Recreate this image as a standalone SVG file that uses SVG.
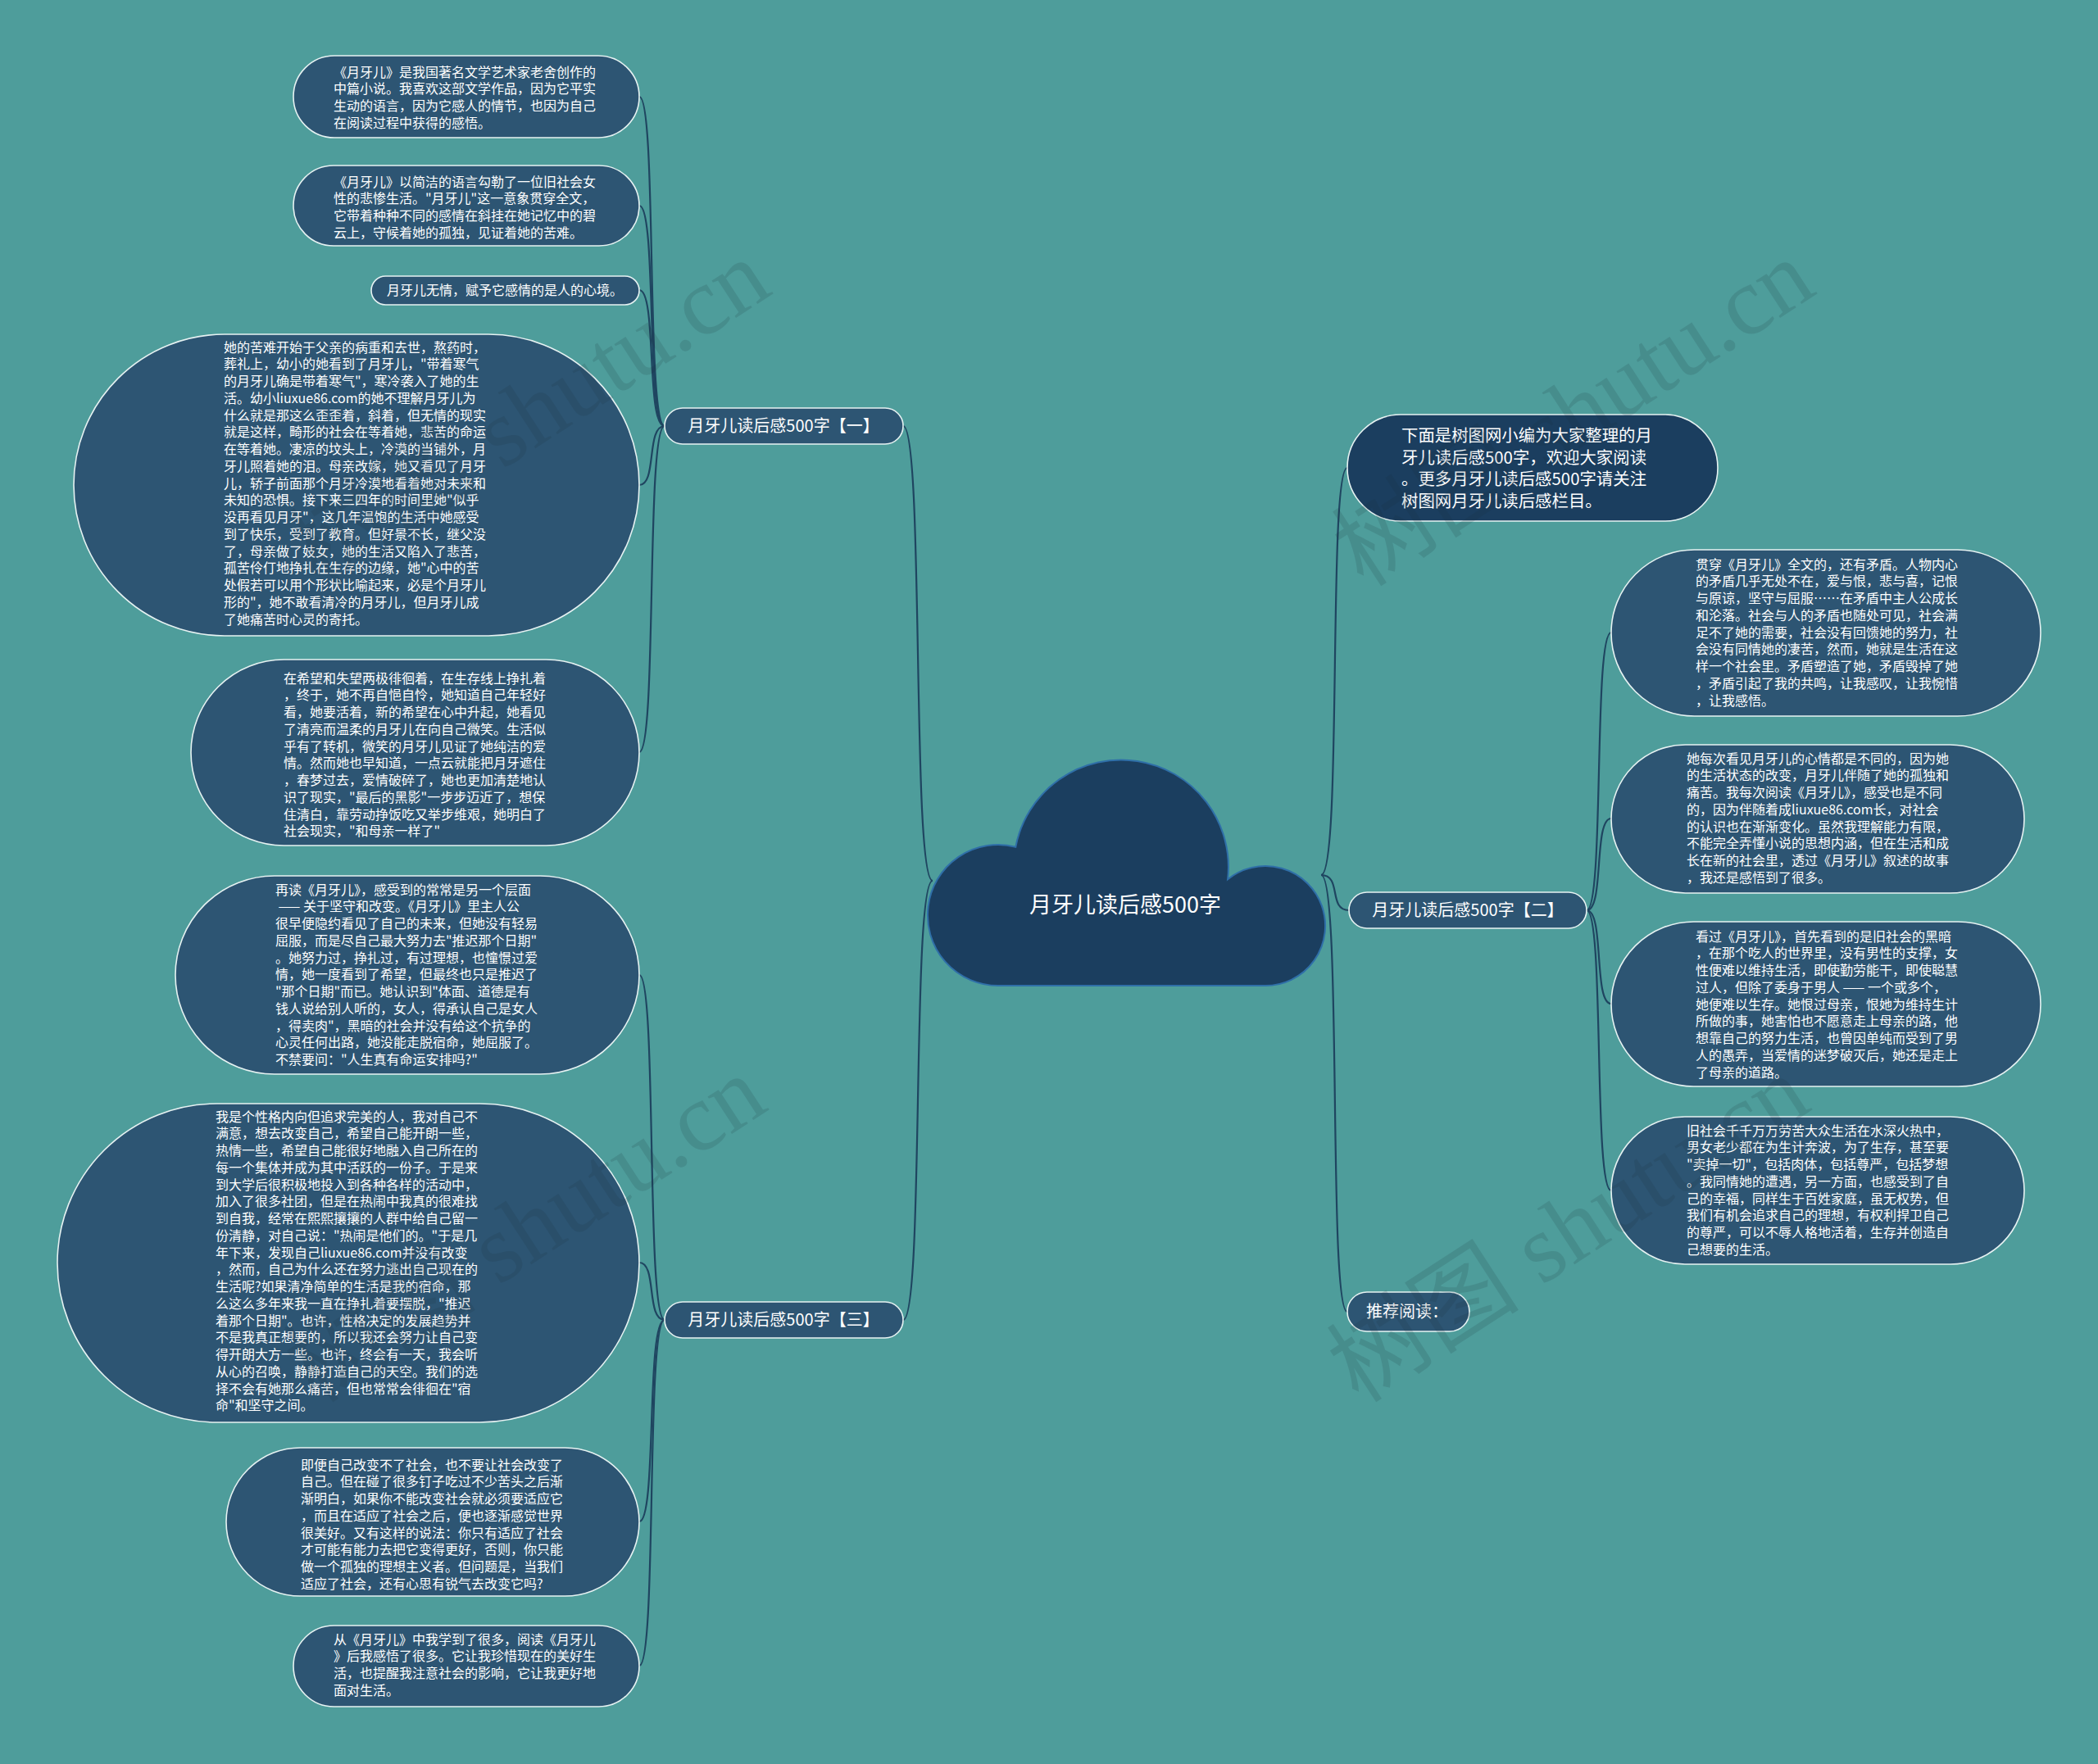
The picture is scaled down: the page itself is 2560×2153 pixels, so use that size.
<svg xmlns="http://www.w3.org/2000/svg" width="2560" height="2153" viewBox="0 0 2560 2153">
<style>
.node{fill:#2d5573;stroke:#e6f2f2;stroke-width:1.6}
.dark{fill:#1b3e5f;stroke:#e6f2f2;stroke-width:1.6}
.cloud{fill:#1b3e5f;stroke:#2f6fa8;stroke-width:2}
.t{font-family:"Noto Sans CJK SC","Noto Sans",sans-serif;font-size:16px;fill:#ffffff}
.tl{font-family:"Noto Sans CJK SC","Noto Sans",sans-serif;font-size:20px;fill:#ffffff}
.tc{font-family:"Noto Sans CJK SC","Noto Sans",sans-serif;font-size:27px;fill:#ffffff}
.link{fill:none;stroke:#1f4560;stroke-width:2.2}
.wm{font-family:"Liberation Serif","Noto Sans CJK SC",serif;font-size:118px;fill:#1a2f3a;opacity:0.14}
</style>
<rect x="0" y="0" width="2560" height="2153" fill="#4e9d9b"/>

<g id="connectors">
<path class="link" d="M1138 1075 C1112 1075,1128 520,1102 520"/>
<path class="link" d="M1138 1075 C1112 1075,1128 1611,1102 1611"/>
<path class="link" d="M811 520 C788 520,802 118,780 118"/>
<path class="link" d="M811 520 C788 520,802 251,780 251"/>
<path class="link" d="M811 520 C788 520,802 354,780 354"/>
<path class="link" d="M811 520 C788 520,802 592,780 592"/>
<path class="link" d="M811 520 C788 520,802 918,780 918"/>
<path class="link" d="M811 1611 C788 1611,802 1190,780 1190"/>
<path class="link" d="M811 1611 C788 1611,802 1541,780 1541"/>
<path class="link" d="M811 1611 C788 1611,802 1857,780 1857"/>
<path class="link" d="M811 1611 C788 1611,802 2033,780 2033"/>
<path class="link" d="M1612 1068 C1638 1068,1620 571,1644 571"/>
<path class="link" d="M1612 1068 C1638 1068,1620 1111,1646 1111"/>
<path class="link" d="M1612 1068 C1638 1068,1620 1601,1644 1601"/>
<path class="link" d="M1936 1111 C1958 1111,1944 772,1966 772"/>
<path class="link" d="M1936 1111 C1958 1111,1944 999,1966 999"/>
<path class="link" d="M1936 1111 C1958 1111,1944 1225,1966 1225"/>
<path class="link" d="M1936 1111 C1958 1111,1944 1453,1966 1453"/>
</g>

<g id="center">
<path class="cloud" d="M1218 1203 A86 86 0 1 1 1239.3 1033.7 A131 131 0 0 1 1498.1 1073.3 A73 73 0 1 1 1544 1203 Z"/>
<text class="tc" x="1373" y="1114" text-anchor="middle">月牙儿读后感500字</text>
</g>

<g id="branch1">
<rect class="node" x="811" y="498" width="291" height="44" rx="22"/>
<text class="tl" x="956" y="527" text-anchor="middle">月牙儿读后感500字【一】</text>
</g>
<g id="branch3">
<rect class="node" x="811" y="1589" width="291" height="44" rx="22"/>
<text class="tl" x="956" y="1618" text-anchor="middle">月牙儿读后感500字【三】</text>
</g>
<g id="branch2">
<rect class="node" x="1646" y="1089" width="290" height="44" rx="22"/>
<text class="tl" x="1791" y="1118" text-anchor="middle">月牙儿读后感500字【二】</text>
</g>
<g id="recommend">
<rect class="node" x="1644" y="1577" width="149" height="48" rx="24"/>
<text class="tl" x="1667" y="1608">推荐阅读：</text>
</g>

<g id="intro">
<rect class="dark" x="1644" y="506" width="452" height="130" rx="65"/>
<text class="tl" x="1710" y="539" style="font-size:20.4px"><tspan x="1710" dy="0">下面是树图网小编为大家整理的月</tspan><tspan x="1710" dy="26.7">牙儿读后感500字，欢迎大家阅读</tspan><tspan x="1710" dy="26.7">。更多月牙儿读后感500字请关注</tspan><tspan x="1710" dy="26.7">树图网月牙儿读后感栏目。</tspan></text>
</g>

<g id="n1">
<rect class="node" x="358" y="68" width="422" height="100" rx="50"/>
<text class="t" x="407" y="93.6"><tspan x="407" dy="0">《月牙儿》是我国著名文学艺术家老舍创作的</tspan><tspan x="407" dy="20.75">中篇小说。我喜欢这部文学作品，因为它平实</tspan><tspan x="407" dy="20.75">生动的语言，因为它感人的情节，也因为自己</tspan><tspan x="407" dy="20.75">在阅读过程中获得的感悟。</tspan></text>
</g>

<g id="n2">
<rect class="node" x="358" y="202" width="422" height="98" rx="49"/>
<text class="t" x="407" y="227.6"><tspan x="407" dy="0">《月牙儿》以简洁的语言勾勒了一位旧社会女</tspan><tspan x="407" dy="20.75">性的悲惨生活。"月牙儿"这一意象贯穿全文，</tspan><tspan x="407" dy="20.75">它带着种种不同的感情在斜挂在她记忆中的碧</tspan><tspan x="407" dy="20.75">云上，守候着她的孤独，见证着她的苦难。</tspan></text>
</g>

<g id="n3">
<rect class="node" x="453" y="337" width="327" height="35" rx="17.5"/>
<text class="t" x="472" y="359.6">月牙儿无情，赋予它感情的是人的心境。</text>
</g>

<g id="n4">
<rect class="node" x="90" y="408" width="690" height="368" rx="184"/>
<text class="t" x="273" y="429.6"><tspan x="273" dy="0">她的苦难开始于父亲的病重和去世，熬药时，</tspan><tspan x="273" dy="20.75">葬礼上，幼小的她看到了月牙儿，"带着寒气</tspan><tspan x="273" dy="20.75">的月牙儿确是带着寒气"，寒冷袭入了她的生</tspan><tspan x="273" dy="20.75">活。幼小liuxue86.com的她不理解月牙儿为</tspan><tspan x="273" dy="20.75">什么就是那这么歪歪着，斜着，但无情的现实</tspan><tspan x="273" dy="20.75">就是这样，畸形的社会在等着她，悲苦的命运</tspan><tspan x="273" dy="20.75">在等着她。凄凉的坟头上，冷漠的当铺外，月</tspan><tspan x="273" dy="20.75">牙儿照着她的泪。母亲改嫁，她又看见了月牙</tspan><tspan x="273" dy="20.75">儿，轿子前面那个月牙冷漠地看着她对未来和</tspan><tspan x="273" dy="20.75">未知的恐惧。接下来三四年的时间里她"似乎</tspan><tspan x="273" dy="20.75">没再看见月牙"，这几年温饱的生活中她感受</tspan><tspan x="273" dy="20.75">到了快乐，受到了教育。但好景不长，继父没</tspan><tspan x="273" dy="20.75">了，母亲做了妓女，她的生活又陷入了悲苦，</tspan><tspan x="273" dy="20.75">孤苦伶仃地挣扎在生存的边缘，她"心中的苦</tspan><tspan x="273" dy="20.75">处假若可以用个形状比喻起来，必是个月牙儿</tspan><tspan x="273" dy="20.75">形的"，她不敢看清冷的月牙儿，但月牙儿成</tspan><tspan x="273" dy="20.75">了她痛苦时心灵的寄托。</tspan></text>
</g>

<g id="n5">
<rect class="node" x="233" y="805" width="547" height="227" rx="113.5"/>
<text class="t" x="346" y="833.6"><tspan x="346" dy="0">在希望和失望两极徘徊着，在生存线上挣扎着</tspan><tspan x="346" dy="20.75">，终于，她不再自悒自怜，她知道自己年轻好</tspan><tspan x="346" dy="20.75">看，她要活着，新的希望在心中升起，她看见</tspan><tspan x="346" dy="20.75">了清亮而温柔的月牙儿在向自己微笑。生活似</tspan><tspan x="346" dy="20.75">乎有了转机，微笑的月牙儿见证了她纯洁的爱</tspan><tspan x="346" dy="20.75">情。然而她也早知道，一点云就能把月牙遮住</tspan><tspan x="346" dy="20.75">，春梦过去，爱情破碎了，她也更加清楚地认</tspan><tspan x="346" dy="20.75">识了现实，"最后的黑影"一步步迈近了，想保</tspan><tspan x="346" dy="20.75">住清白，靠劳动挣饭吃又举步维艰，她明白了</tspan><tspan x="346" dy="20.75">社会现实，"和母亲一样了"</tspan></text>
</g>

<g id="n6">
<rect class="node" x="214" y="1069" width="566" height="242" rx="121"/>
<text class="t" x="336" y="1091.6"><tspan x="336" dy="0">再读《月牙儿》，感受到的常常是另一个层面</tspan><tspan x="336" dy="20.75"> —— 关于坚守和改变。《月牙儿》里主人公</tspan><tspan x="336" dy="20.75">很早便隐约看见了自己的未来，但她没有轻易</tspan><tspan x="336" dy="20.75">屈服，而是尽自己最大努力去"推迟那个日期"</tspan><tspan x="336" dy="20.75">。她努力过，挣扎过，有过理想，也憧憬过爱</tspan><tspan x="336" dy="20.75">情，她一度看到了希望，但最终也只是推迟了</tspan><tspan x="336" dy="20.75">"那个日期"而已。她认识到"体面、道德是有</tspan><tspan x="336" dy="20.75">钱人说给别人听的，女人，得承认自己是女人</tspan><tspan x="336" dy="20.75">，得卖肉"，黑暗的社会并没有给这个抗争的</tspan><tspan x="336" dy="20.75">心灵任何出路，她没能走脱宿命，她屈服了。</tspan><tspan x="336" dy="20.75">不禁要问："人生真有命运安排吗?"</tspan></text>
</g>

<g id="n7">
<rect class="node" x="70" y="1347" width="710" height="389" rx="194.5"/>
<text class="t" x="263" y="1368.6"><tspan x="263" dy="0">我是个性格内向但追求完美的人，我对自己不</tspan><tspan x="263" dy="20.75">满意，想去改变自己，希望自己能开朗一些，</tspan><tspan x="263" dy="20.75">热情一些，希望自己能很好地融入自己所在的</tspan><tspan x="263" dy="20.75">每一个集体并成为其中活跃的一份子。于是来</tspan><tspan x="263" dy="20.75">到大学后很积极地投入到各种各样的活动中，</tspan><tspan x="263" dy="20.75">加入了很多社团，但是在热闹中我真的很难找</tspan><tspan x="263" dy="20.75">到自我，经常在熙熙攘攘的人群中给自己留一</tspan><tspan x="263" dy="20.75">份清静，对自己说："热闹是他们的。"于是几</tspan><tspan x="263" dy="20.75">年下来，发现自己liuxue86.com并没有改变</tspan><tspan x="263" dy="20.75">，然而，自己为什么还在努力逃出自己现在的</tspan><tspan x="263" dy="20.75">生活呢?如果清净简单的生活是我的宿命，那</tspan><tspan x="263" dy="20.75">么这么多年来我一直在挣扎着要摆脱，"推迟</tspan><tspan x="263" dy="20.75">着那个日期"。也许，性格决定的发展趋势并</tspan><tspan x="263" dy="20.75">不是我真正想要的，所以我还会努力让自己变</tspan><tspan x="263" dy="20.75">得开朗大方一些。也许，终会有一天，我会听</tspan><tspan x="263" dy="20.75">从心的召唤，静静打造自己的天空。我们的选</tspan><tspan x="263" dy="20.75">择不会有她那么痛苦，但也常常会徘徊在"宿</tspan><tspan x="263" dy="20.75">命"和坚守之间。</tspan></text>
</g>

<g id="n8">
<rect class="node" x="276" y="1767" width="504" height="181" rx="90.5"/>
<text class="t" x="367" y="1793.6"><tspan x="367" dy="0">即便自己改变不了社会，也不要让社会改变了</tspan><tspan x="367" dy="20.75">自己。但在碰了很多钉子吃过不少苦头之后渐</tspan><tspan x="367" dy="20.75">渐明白，如果你不能改变社会就必须要适应它</tspan><tspan x="367" dy="20.75">，而且在适应了社会之后，便也逐渐感觉世界</tspan><tspan x="367" dy="20.75">很美好。又有这样的说法：你只有适应了社会</tspan><tspan x="367" dy="20.75">才可能有能力去把它变得更好，否则，你只能</tspan><tspan x="367" dy="20.75">做一个孤独的理想主义者。但问题是，当我们</tspan><tspan x="367" dy="20.75">适应了社会，还有心思有锐气去改变它吗?</tspan></text>
</g>

<g id="n9">
<rect class="node" x="358" y="1984" width="422" height="99" rx="49.5"/>
<text class="t" x="407" y="2006.6"><tspan x="407" dy="0">从《月牙儿》中我学到了很多，阅读《月牙儿</tspan><tspan x="407" dy="20.75">》后我感悟了很多。它让我珍惜现在的美好生</tspan><tspan x="407" dy="20.75">活，也提醒我注意社会的影响，它让我更好地</tspan><tspan x="407" dy="20.75">面对生活。</tspan></text>
</g>

<g id="r1">
<rect class="node" x="1966" y="671" width="524" height="203" rx="101.5"/>
<text class="t" x="2069" y="694.6"><tspan x="2069" dy="0">贯穿《月牙儿》全文的，还有矛盾。人物内心</tspan><tspan x="2069" dy="20.75">的矛盾几乎无处不在，爱与恨，悲与喜，记恨</tspan><tspan x="2069" dy="20.75">与原谅，坚守与屈服……在矛盾中主人公成长</tspan><tspan x="2069" dy="20.75">和沦落。社会与人的矛盾也随处可见，社会满</tspan><tspan x="2069" dy="20.75">足不了她的需要，社会没有回馈她的努力，社</tspan><tspan x="2069" dy="20.75">会没有同情她的凄苦，然而，她就是生活在这</tspan><tspan x="2069" dy="20.75">样一个社会里。矛盾塑造了她，矛盾毁掉了她</tspan><tspan x="2069" dy="20.75">，矛盾引起了我的共鸣，让我感叹，让我惋惜</tspan><tspan x="2069" dy="20.75">，让我感悟。</tspan></text>
</g>

<g id="r2">
<rect class="node" x="1966" y="909" width="504" height="181" rx="90.5"/>
<text class="t" x="2058" y="931.6"><tspan x="2058" dy="0">她每次看见月牙儿的心情都是不同的，因为她</tspan><tspan x="2058" dy="20.75">的生活状态的改变，月牙儿伴随了她的孤独和</tspan><tspan x="2058" dy="20.75">痛苦。我每次阅读《月牙儿》，感受也是不同</tspan><tspan x="2058" dy="20.75">的，因为伴随着成liuxue86.com长，对社会</tspan><tspan x="2058" dy="20.75">的认识也在渐渐变化。虽然我理解能力有限，</tspan><tspan x="2058" dy="20.75">不能完全弄懂小说的思想内涵，但在生活和成</tspan><tspan x="2058" dy="20.75">长在新的社会里，透过《月牙儿》叙述的故事</tspan><tspan x="2058" dy="20.75">，我还是感悟到了很多。</tspan></text>
</g>

<g id="r3">
<rect class="node" x="1966" y="1125" width="524" height="201" rx="100.5"/>
<text class="t" x="2069" y="1148.6"><tspan x="2069" dy="0">看过《月牙儿》，首先看到的是旧社会的黑暗</tspan><tspan x="2069" dy="20.75">，在那个吃人的世界里，没有男性的支撑，女</tspan><tspan x="2069" dy="20.75">性便难以维持生活，即使勤劳能干，即使聪慧</tspan><tspan x="2069" dy="20.75">过人，但除了委身于男人 —— 一个或多个，</tspan><tspan x="2069" dy="20.75">她便难以生存。她恨过母亲，恨她为维持生计</tspan><tspan x="2069" dy="20.75">所做的事，她害怕也不愿意走上母亲的路，他</tspan><tspan x="2069" dy="20.75">想靠自己的努力生活，也曾因单纯而受到了男</tspan><tspan x="2069" dy="20.75">人的愚弄，当爱情的迷梦破灭后，她还是走上</tspan><tspan x="2069" dy="20.75">了母亲的道路。</tspan></text>
</g>

<g id="r4">
<rect class="node" x="1966" y="1363" width="504" height="180" rx="90"/>
<text class="t" x="2058" y="1385.6"><tspan x="2058" dy="0">旧社会千千万万劳苦大众生活在水深火热中，</tspan><tspan x="2058" dy="20.75">男女老少都在为生计奔波，为了生存，甚至要</tspan><tspan x="2058" dy="20.75">"卖掉一切"，包括肉体，包括尊严，包括梦想</tspan><tspan x="2058" dy="20.75">。我同情她的遭遇，另一方面，也感受到了自</tspan><tspan x="2058" dy="20.75">己的幸福，同样生于百姓家庭，虽无权势，但</tspan><tspan x="2058" dy="20.75">我们有机会追求自己的理想，有权利捍卫自己</tspan><tspan x="2058" dy="20.75">的尊严，可以不辱人格地活着，生存并创造自</tspan><tspan x="2058" dy="20.75">己想要的生活。</tspan></text>
</g>

<g id="watermarks">
<text class="wm" transform="translate(390 718) rotate(-33)">树图 shutu.cn</text>
<text class="wm" transform="translate(1664 718) rotate(-33)">树图 shutu.cn</text>
<text class="wm" transform="translate(385 1714) rotate(-33)">树图 shutu.cn</text>
<text class="wm" transform="translate(1658 1714) rotate(-33)">树图 shutu.cn</text>
</g>
</svg>
